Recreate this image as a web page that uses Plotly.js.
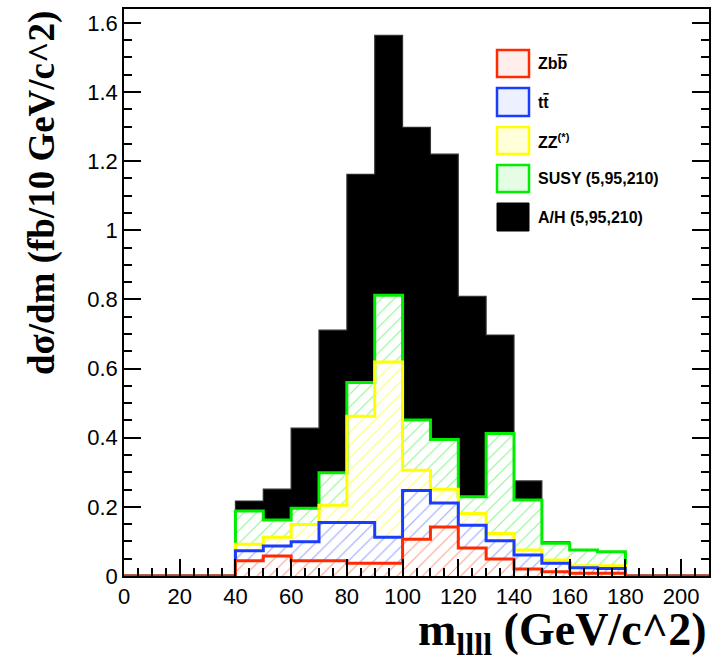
<!DOCTYPE html>
<html><head><meta charset="utf-8">
<script src="https://cdn.plot.ly/plotly-3.0.1.min.js"></script>
<style>html,body{margin:0;padding:0;background:#fff}#chart{width:715px;height:657px}</style>
</head><body><div id="chart"></div>
<script>
// ---- data (per-process contributions, fb per 10 GeV bin) ----
const binLowEdges = [0,10,20,30,40,50,60,70,80,90,100,110,120,130,140,150,160,170,180,190,200];
const zbbValues   = [0,0,0,0, 0.044,0.058,0.044,0.044,0.037,0.037,0.106,0.142,0.081,0.049,0.020,0.012,0.008,0.008, 0,0,0];
const ttbarValues = [0,0,0,0, 0.029,0.029,0.055,0.111,0.118,0.075,0.141,0.069,0.066,0.053,0.041,0.025,0.016,0.014, 0,0,0];
const zzValues    = [0,0,0,0, 0.019,0.025,0.050,0.050,0.307,0.507,0.059,0.040,0.034,0.021,0.014,0.009,0.006,0.008, 0,0,0];
const susyValues  = [0,0,0,0, 0.096,0.050,0.047,0.094,0.098,0.193,0.145,0.144,0.048,0.289,0.145,0.049,0.045,0.040, 0,0,0];
const ahValues    = [0,0,0,0, 0.029,0.089,0.232,0.412,0.602,0.752,0.847,0.825,0.580,0.285,0.055,0.004,0,0, 0,0,0];
const seriesNames = ['Zb<span style="text-decoration:overline">b</span>', 't<span style="text-decoration:overline">t</span>', 'ZZ<sup>(*)</sup>', 'SUSY (5,95,210)', 'A/H (5,95,210)'];
const xTickVals = [0,20,40,60,80,100,120,140,160,180,200];
const xTickText = ['0','20','40','60','80','100','120','140','160','180','200'];
const yTickVals = [0,0.2,0.4,0.6,0.8,1.0,1.2,1.4,1.6];
const yTickText = ['0','0.2','0.4','0.6','0.8','1','1.2','1.4','1.6'];
const xTitle = 'm<sub>llll</sub> (GeV/c^2)';
const yTitle = 'dσ/dm (fb/10 GeV/c^2)';

// ---- styling ----
const binWidth = 10;
const colors = ['#ff2a00', '#1a3cff', '#ffff00', '#00ee00', '#000000'];
const series = [zbbValues, ttbarValues, zzValues, susyValues, ahValues];
const centers = binLowEdges.map(e => e + binWidth / 2);
const stepX = binLowEdges.concat([binLowEdges[binLowEdges.length - 1] + binWidth]);
const xRange = [0, 210], yRange = [0, 1.64];

const traces = [];
series.forEach((vals, i) => {
  const isSolid = i === 4;
  traces.push({
    type: 'bar', x: centers, y: vals, width: binWidth,
    marker: isSolid ? {color: 'black', line: {width: 0}} : {
      color: 'white', line: {width: 0},
      pattern: {shape: '/', size: 9, solidity: 0.12, fgcolor: colors[i], bgcolor: 'white', fgopacity: i === 2 ? 0.6 : 0.45}
    },
    hoverinfo: 'skip', showlegend: false
  });
});
// cumulative outlines, drawn top of stack first so Zbb ends on top
const cumulative = [];
let running = binLowEdges.map(() => 0);
series.forEach(vals => { running = running.map((r, k) => r + vals[k]); cumulative.push(running.slice()); });
for (let i = 4; i >= 0; i--) {
  const c = cumulative[i];
  traces.push({
    type: 'scatter', mode: 'lines', x: stepX, y: c.concat([c[c.length - 1]]),
    line: {shape: 'hv', color: i === 4 ? '#333333' : colors[i], width: i === 4 ? 1.2 : 3},
    hoverinfo: 'skip', showlegend: false
  });
}

// ---- geometry helpers (pixel -> paper) ----
const W = 715, H = 657, mL = 124, mR = 6, mT = 9, mB = 81;
const pw = W - mL - mR, ph = H - mT - mB;
const px = x => (x - mL) / pw;
const py = y => (H - mB - y) / ph;

const legendRows = [[50, 77], [88, 116], [127, 154], [165, 192], [203, 231]];
const shapes = [], annotations = [];
legendRows.forEach((r, i) => {
  const fillTint = ['rgba(255,42,0,0.08)', 'rgba(26,60,255,0.08)', 'rgba(255,255,0,0.15)', 'rgba(0,238,0,0.10)', 'black'][i];
  shapes.push({type: 'rect', xref: 'paper', yref: 'paper', x0: px(497), x1: px(529), y0: py(r[1]), y1: py(r[0]),
    line: {color: colors[i], width: i === 4 ? 1 : 2.5}, fillcolor: fillTint});
  annotations.push({xref: 'paper', yref: 'paper', x: px(536), y: py((r[0] + r[1]) / 2), xanchor: 'left', yanchor: 'middle',
    text: '<b>' + seriesNames[i] + '</b>', showarrow: false,
    font: {family: 'Liberation Sans, Arial, sans-serif', size: 16, color: 'black'}});
});
annotations.push({xref: 'paper', yref: 'paper', x: 1, y: py(633), xanchor: 'right', yanchor: 'middle',
  text: '<b>' + xTitle + '</b>', showarrow: false,
  font: {family: 'Liberation Serif, Times New Roman, serif', size: 46, color: 'black'}});
annotations.push({xref: 'paper', yref: 'paper', x: px(42), y: py(9), xanchor: 'center', yanchor: 'top', textangle: -90,
  text: '<b>' + yTitle + '</b>', showarrow: false,
  font: {family: 'Liberation Serif, Times New Roman, serif', size: 37, color: 'black'}});

const tickFont = {family: 'Liberation Sans, Arial, sans-serif', size: 22, color: 'black'};
const layout = {
  width: W, height: H, margin: {l: mL, r: mR, t: mT, b: mB},
  barmode: 'stack', bargap: 0, showlegend: false,
  xaxis: {range: xRange, showline: true, mirror: true, linecolor: 'black', linewidth: 1.5,
    ticks: 'inside', ticklen: 17, tickwidth: 2, tickcolor: 'black',
    tickmode: 'linear', tick0: xTickVals[0], dtick: xTickVals[1] - xTickVals[0],
    minor: {ticks: 'inside', ticklen: 8, tickwidth: 1.6, tickcolor: 'black', dtick: 5},
    showgrid: false, zeroline: false, tickfont: tickFont},
  yaxis: {range: yRange, showline: true, mirror: 'ticks', linecolor: 'black', linewidth: 1.5,
    ticks: 'inside', ticklen: 17, tickwidth: 2, tickcolor: 'black',
    tickmode: 'linear', tick0: yTickVals[0], dtick: 0.2,
    minor: {ticks: 'inside', ticklen: 8, tickwidth: 1.6, tickcolor: 'black', dtick: 0.05},
    showgrid: false, zeroline: false, tickfont: tickFont},
  shapes: shapes, annotations: annotations
};
Plotly.newPlot('chart', traces, layout, {displayModeBar: false});
</script></body></html>
